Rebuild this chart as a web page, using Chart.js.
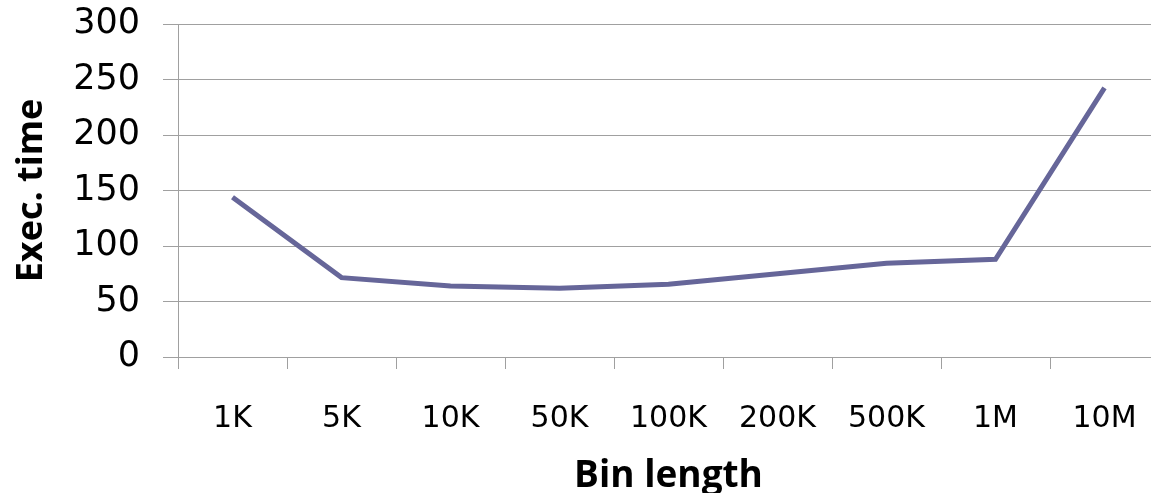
<!DOCTYPE html>
<html>
<head>
<meta charset="utf-8">
<script src="https://cdn.jsdelivr.net/npm/chart.js@4.4.1/dist/chart.umd.min.js"></script>
<style>
  html, body { margin: 0; padding: 0; background: #ffffff; overflow: hidden; }
  #wrap { position: relative; width: 1175px; height: 493px; }
</style>
</head>
<body>
<div id="wrap"><canvas id="chart"></canvas></div>
<script>
// Execution time per bin length
const binLengths = ['1K', '5K', '10K', '50K', '100K', '200K', '500K', '1M', '10M'];
const execTimes = [144, 71.5, 64, 62, 65.5, 75, 84.5, 88, 242.5];
const yTicks = [0, 50, 100, 150, 200, 250, 300];

const gridColor = '#a0a0a0';
const lineColor = '#666699';

new Chart(document.getElementById('chart'), {
  type: 'line',
  data: {
    labels: binLengths,
    datasets: [{
      data: execTimes,
      borderColor: lineColor,
      borderWidth: 5,
      pointRadius: 0,
      pointHoverRadius: 0,
      tension: 0,
      fill: false
    }]
  },
  options: {
    responsive: true,
    maintainAspectRatio: false,
    animation: false,
    events: [],
    layout: { padding: { left: 0, right: 16, top: 24, bottom: 0 } },
    plugins: { legend: { display: false }, tooltip: { enabled: false } },
    scales: {
      x: {
        type: 'category',
        offset: true,
        grid: { offset: true, drawOnChartArea: false, drawTicks: true, tickLength: 12, color: gridColor, lineWidth: 1 },
        border: { display: true, color: gridColor, width: 1 },
        ticks: { color: '#000000', padding: 32, maxRotation: 0, autoSkip: false,
                 font: { family: 'DejaVu Sans', size: 30 } },
        title: { display: true, text: 'Bin length', color: '#000000',
                 font: { family: 'Open Sans', size: 37, weight: 'bold' }, padding: { top: 0, bottom: -6 } },
        afterFit: (s) => { s.height = 493 - 357; }
      },
      y: {
        min: 0,
        max: 300,
        afterBuildTicks: (s) => { s.ticks = yTicks.map(v => ({ value: v })); },
        grid: { drawTicks: true, tickLength: 15, color: gridColor, lineWidth: 1 },
        border: { display: true, color: gridColor, width: 1 },
        ticks: { color: '#000000', padding: 23,
                 font: { family: 'DejaVu Sans', size: 35 } },
        title: { display: true, text: 'Exec. time', color: '#000000',
                 font: { family: 'Open Sans', size: 36, weight: 'bold' }, padding: { top: 10, bottom: 0 } },
        afterFit: (s) => { s.width = 178; s.paddingTop = 0; s.paddingBottom = 0; }
      }
    }
  }
});
</script>
</body>
</html>
